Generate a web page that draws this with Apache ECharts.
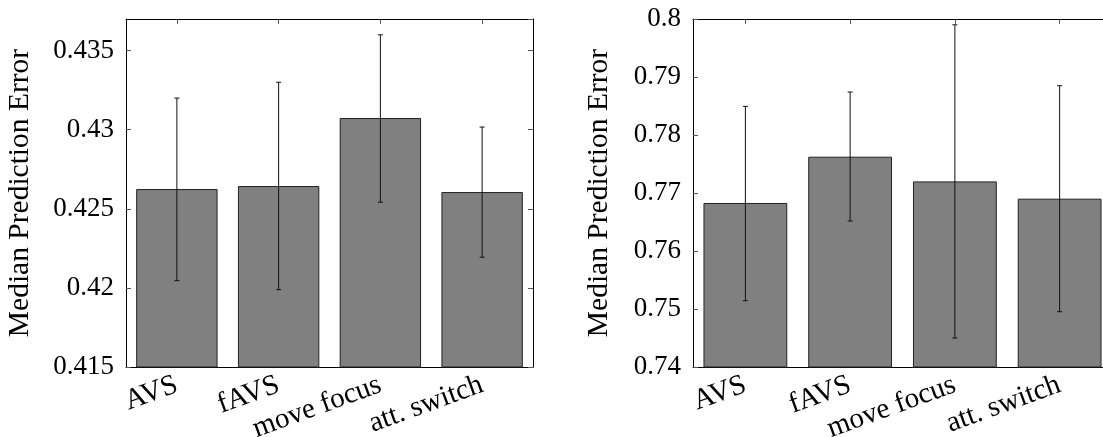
<!DOCTYPE html>
<html>
<head>
<meta charset="utf-8">
<script src="https://cdn.jsdelivr.net/npm/echarts@6/dist/echarts.min.js"></script>
<style>
  html, body { margin: 0; padding: 0; background: #fff; }
  #chart { width: 1103px; height: 437px; }
</style>
</head>
<body>
<div id="chart"></div>
<script>
// categories shared by both panels
const categories = ['AVS', 'fAVS', 'move focus', 'att. switch']

// left panel
const leftMedian = [0.42625, 0.42644, 0.43074, 0.42606]
const leftLower = [0.42046, 0.41989, 0.42542, 0.42194]
const leftUpper = [0.4320, 0.4330, 0.4360, 0.43017]

// right panel
const rightMedian = [0.76828, 0.77626, 0.7720, 0.76902]
const rightLower = [0.75143, 0.76517, 0.7450, 0.74953]
const rightUpper = [0.78493, 0.78741, 0.7990, 0.7885]

const font = "'Liberation Serif', 'DejaVu Serif', serif"
const fontSize = 27

let myChart = echarts.init(document.getElementById('chart'))

// error bar: vertical line with small caps
function errorBar(params, api) {
    const x = api.value(0)
    const lo = api.coord([x, api.value(1)])
    const hi = api.coord([x, api.value(2)])
    const cap = 2.5
    const style = { stroke: '#111', lineWidth: 1 }
    return {
        type: 'group',
        children: [
            { type: 'line', shape: { x1: hi[0], y1: hi[1], x2: lo[0], y2: lo[1] }, style: style },
            { type: 'line', shape: { x1: hi[0] - cap, y1: hi[1], x2: hi[0] + cap, y2: hi[1] }, style: style },
            { type: 'line', shape: { x1: lo[0] - cap, y1: lo[1], x2: lo[0] + cap, y2: lo[1] }, style: style }
        ]
    }
}

function errData(lower, upper) {
    return lower.map((v, i) => [i, v, upper[i]])
}

// bottom x axis with rotated labels
function bottomX(gridIndex) {
    return {
        type: 'category',
        gridIndex: gridIndex,
        data: categories,
        position: 'bottom',
        axisLine: { show: true, lineStyle: { color: '#000', width: 1 } },
        axisTick: { show: false },
        axisLabel: {
            interval: 0,
            rotate: 20,
            margin: 17,
            hideOverlap: false,
            color: '#000',
            fontFamily: font,
            fontSize: 29
        }
    }
}

// top mirror axis, ticks only
function topX(gridIndex) {
    return {
        type: 'category',
        gridIndex: gridIndex,
        data: categories,
        position: 'top',
        axisLine: { show: true, lineStyle: { color: '#000', width: 1 } },
        axisTick: { show: true, inside: true, length: 5, alignWithLabel: true, lineStyle: { color: '#555' } },
        axisLabel: { show: false }
    }
}

function leftY(gridIndex, min, max, interval, gap, showMax) {
    return {
        type: 'value',
        gridIndex: gridIndex,
        position: 'left',
        min: min,
        max: max,
        interval: interval,
        name: 'Median Prediction Error',
        nameLocation: 'middle',
        nameGap: gap,
        nameTextStyle: { color: '#000', fontFamily: font, fontSize: 29.5 },
        axisLine: { show: true, lineStyle: { color: '#000', width: 1 } },
        axisTick: { show: true, inside: true, length: 5, lineStyle: { color: '#555' } },
        axisLabel: {
            margin: 12,
            color: '#000',
            fontFamily: font,
            fontSize: fontSize,
            showMaxLabel: showMax
        },
        splitLine: { show: false }
    }
}

function rightY(gridIndex, min, max, interval) {
    return {
        type: 'value',
        gridIndex: gridIndex,
        position: 'right',
        min: min,
        max: max,
        interval: interval,
        axisLine: { show: true, lineStyle: { color: '#000', width: 1 } },
        axisTick: { show: true, inside: true, length: 5, lineStyle: { color: '#555' } },
        axisLabel: { show: false },
        splitLine: { show: false }
    }
}

const barStyle = { color: '#808080', borderColor: '#222', borderWidth: 1 }

const option = {
    animation: false,
    backgroundColor: '#fff',
    grid: [
        { left: 126, top: 19, width: 407, height: 348, outerBoundsMode: 'none' },
        { left: 693, top: 19, width: 419, height: 348, outerBoundsMode: 'none' }
    ],
    xAxis: [bottomX(0), topX(0), bottomX(1), topX(1)],
    yAxis: [
        leftY(0, 0.415, 0.437, 0.005, 91, false),
        rightY(0, 0.415, 0.437, 0.005),
        leftY(1, 0.74, 0.8, 0.01, 79, true),
        rightY(1, 0.74, 0.8, 0.01)
    ],
    series: [
        {
            type: 'bar',
            xAxisIndex: 0,
            yAxisIndex: 0,
            data: leftMedian,
            barCategoryGap: '20%',
            itemStyle: barStyle
        },
        {
            type: 'custom',
            xAxisIndex: 0,
            yAxisIndex: 0,
            data: errData(leftLower, leftUpper),
            encode: { x: 0, y: [1, 2] },
            renderItem: errorBar,
            z: 5
        },
        {
            type: 'bar',
            xAxisIndex: 2,
            yAxisIndex: 2,
            data: rightMedian,
            barCategoryGap: '20%',
            itemStyle: barStyle
        },
        {
            type: 'custom',
            xAxisIndex: 2,
            yAxisIndex: 2,
            data: errData(rightLower, rightUpper),
            encode: { x: 0, y: [1, 2] },
            renderItem: errorBar,
            z: 5
        }
    ]
}

myChart.setOption(option)
</script>
</body>
</html>
